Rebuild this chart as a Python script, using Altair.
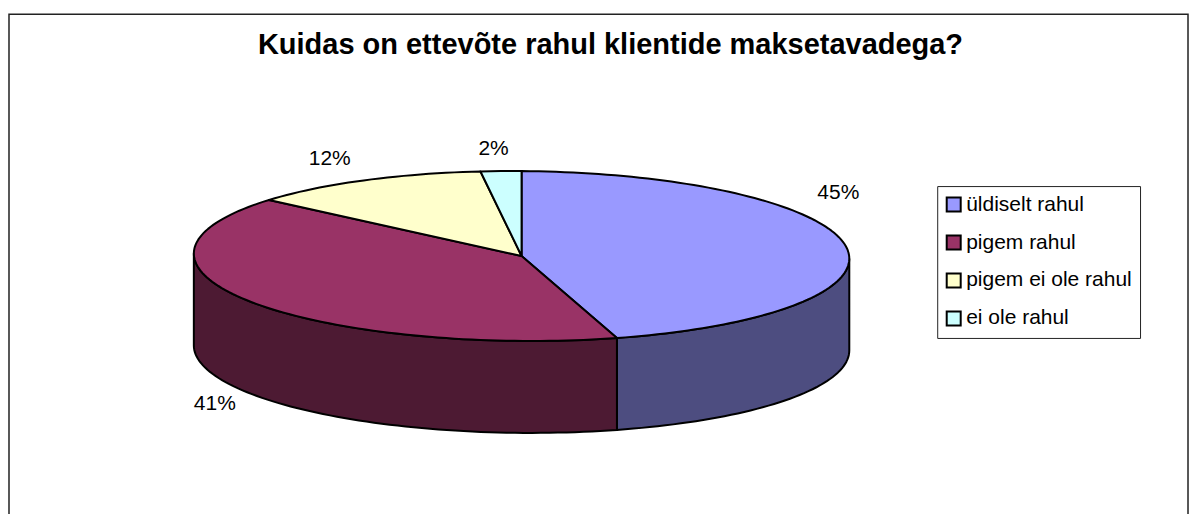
import math
import altair as alt
import pandas as pd

# Data
categories = ["üldiselt rahul", "pigem rahul", "pigem ei ole rahul", "ei ole rahul"]
values = [45.3, 40.7, 12.0, 2.0]
labels = ["45%", "41%", "12%", "2%"]
title_text = "Kuidas on ettevõte rahul klientide maksetavadega?"

# Styles
top_colors = ["#9999FF", "#993366", "#FFFFCC", "#CCFFFF"]
side_colors = ["#4D4D80", "#4D1A33", "#808066", "#668080"]

# Layout (pixels)
W, H = 1186, 506
CX, CY, RX, RY = 521 - 8, 256 - 8, 328.0, 85.0
DEPTH = 92 / RY
TILT = 2.5 / RY
label_px = [(838, 193), (214, 404), (329, 159), (493, 149)]


def rim(deg, drop=0.0):
    t = math.radians(deg)
    return math.sin(t), math.cos(t) - TILT * math.sin(t) - drop


rows, wall_rows, label_rows = [], [], []
start = 0.0
total = sum(values)
for k, (c, v) in enumerate(zip(categories, values)):
    end = start + 360.0 * v / total
    steps = max(2, int((end - start) / 1.5))
    angs = [start + (end - start) * j / steps for j in range(steps + 1)]
    pts = [(0.0, 0.0)] + [rim(a) for a in angs] + [(0.0, 0.0)]
    for i, (x, y) in enumerate(pts):
        rows.append({"part": c, "x": x, "y": y, "i": i})
    lo, hi = max(start, 90.0), min(end, 270.0)
    if hi > lo:
        steps = max(2, int((hi - lo) / 1.5))
        angs = [lo + (hi - lo) * j / steps for j in range(steps + 1)]
        pts = [rim(a) for a in angs] + [rim(a, DEPTH) for a in reversed(angs)]
        pts.append(pts[0])
        for i, (x, y) in enumerate(pts):
            wall_rows.append({"part": c + " (külg)", "x": x, "y": y, "i": i})
    label_rows.append(
        {
            "label": labels[k],
            "x": (label_px[k][0] - 8 - CX) / RX,
            "y": (CY - (label_px[k][1] - 8)) / RY,
        }
    )
    start = end

tops = pd.DataFrame(rows)
walls = pd.DataFrame(wall_rows)
label_df = pd.DataFrame(label_rows)

x_scale = alt.Scale(domain=[-CX / RX, (W - CX) / RX], nice=False, zero=False)
y_scale = alt.Scale(domain=[-(H - CY) / RY, CY / RY], nice=False, zero=False)
x_enc = alt.X("x:Q", scale=x_scale, axis=None)
y_enc = alt.Y("y:Q", scale=y_scale, axis=None)

wall_names = [c + " (külg)" for c in categories]
fill_scale = alt.Scale(domain=categories + wall_names, range=top_colors + side_colors)
legend = alt.Legend(
    title=None,
    orient="none",
    legendX=929,
    legendY=178,
    values=categories,
    fillColor="white",
    strokeColor="#222222",
    padding=8,
    symbolType="square",
    symbolSize=196,
    symbolOffset=-2,
    symbolStrokeColor="black",
    symbolStrokeWidth=2,
    symbolOpacity=1,
    labelFont="Liberation Sans",
    labelFontSize=21,
    labelColor="black",
    labelLimit=300,
    labelOffset=2,
    rowPadding=15,
)


def poly(df):
    return (
        alt.Chart(df)
        .mark_line(stroke="black", strokeWidth=2, strokeJoin="round", clip=False)
        .encode(
            x=x_enc,
            y=y_enc,
            order=alt.Order("i:Q"),
            fill=alt.Fill("part:N", scale=fill_scale, legend=legend),
        )
    )


text = (
    alt.Chart(label_df)
    .mark_text(font="Liberation Sans", fontSize=21, color="black", align="center", baseline="middle")
    .encode(x=x_enc, y=y_enc, text="label:N")
)

frame = (
    alt.Chart()
    .mark_rect(fillOpacity=0, stroke="#222222", strokeWidth=1.5)
    .encode(x=alt.value(0), x2=alt.value(W - 6), y=alt.value(6), y2=alt.value(H + 20))
)

chart = (
    alt.layer(frame, poly(walls), poly(tops), text)
    .properties(
        width=W,
        height=H,
        padding=0,
        background="white",
        title=alt.TitleParams(
            title_text,
            font="Liberation Sans",
            fontSize=29,
            fontWeight="bold",
            color="black",
            anchor="middle",
            frame="group",
            baseline="alphabetic",
            offset=-75,
            dx=9,
        ),
    )
    .configure_view(stroke=None)
)

chart.save("out.html", embed_options={"renderer": "svg", "actions": False})
